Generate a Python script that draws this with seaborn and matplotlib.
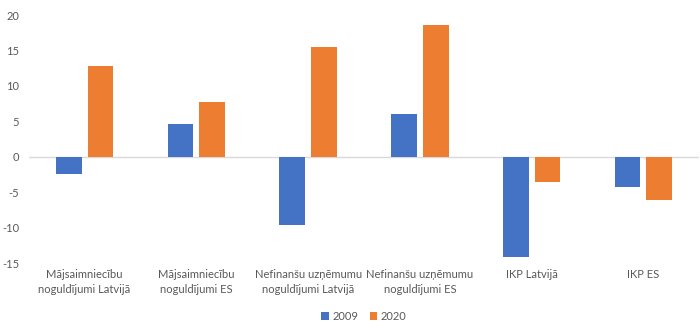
import pandas as pd
import matplotlib.pyplot as plt
import seaborn as sns

# DATA
categories = [
    "Mājsaimniecību\nnoguldījumi Latvijā",
    "Mājsaimniecību\nnoguldījumi ES",
    "Nefinanšu uzņēmumu\nnoguldījumi Latvijā",
    "Nefinanšu uzņēmumu\nnoguldījumi ES",
    "IKP Latvijā",
    "IKP ES",
]
values_2009 = [-2.4, 4.6, -9.6, 6.0, -14.2, -4.3]
values_2020 = [12.8, 7.7, 15.5, 18.6, -3.5, -6.1]
years = ["2009", "2020"]

df = pd.DataFrame({
    "kategorija": categories * 2,
    "gads": [years[0]] * len(categories) + [years[1]] * len(categories),
    "vertiba": values_2009 + values_2020,
})

sns.set_style("white")
plt.rcParams["font.family"] = ["Lato", "DejaVu Sans"]
plt.rcParams["axes.unicode_minus"] = False
text_color = "#595959"

fig = plt.figure(figsize=(7, 3.28), dpi=100)
ax = fig.add_axes([0.041, 0.198, 0.958, 0.756])

sns.barplot(
    data=df, x="kategorija", y="vertiba", hue="gads",
    palette=["#4472C4", "#ED7D31"], saturation=1, width=0.57, gap=0.19,
    edgecolor="none", ax=ax,
)

ax.set_ylim(-15, 20)
ax.set_yticks(range(-15, 21, 5))
ax.set_xlim(-0.5, 5.5)
ax.axhline(0, color="#D9D9D9", linewidth=1, zorder=0)
ax.set_xlabel("")
ax.set_ylabel("")
for s in ax.spines.values():
    s.set_visible(False)
ax.tick_params(axis="both", length=0, labelsize=8, labelcolor=text_color)
ax.tick_params(axis="y", pad=7)
ax.tick_params(axis="x", pad=4)
for lbl in ax.get_xticklabels():
    lbl.set_linespacing(1.45)

ax.legend(
    loc="center", bbox_to_anchor=(0.5, -0.215), bbox_transform=ax.transAxes,
    ncol=2, frameon=False, fontsize=8, handlelength=0.7, handleheight=0.7,
    handletextpad=0.3, columnspacing=1.0, labelcolor=text_color,
)

fig.savefig("out.png", dpi=100)
